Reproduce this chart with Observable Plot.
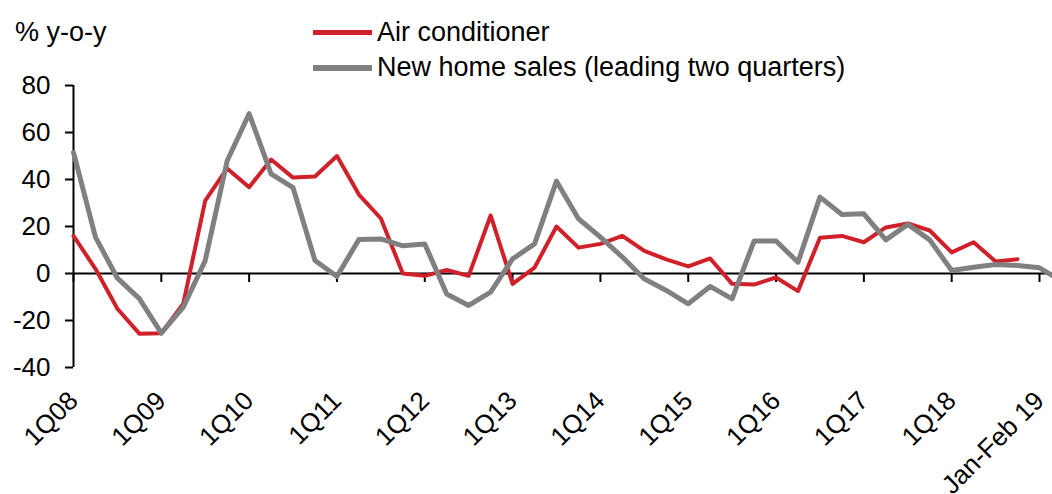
<!DOCTYPE html>
<html><head><meta charset="utf-8">
<script src="https://cdn.jsdelivr.net/npm/d3@7"></script>
<script src="https://cdn.jsdelivr.net/npm/@observablehq/plot@0.6"></script>
<style>
html,body{margin:0;padding:0;background:#fff;overflow:hidden;}
#wrap{width:1052px;height:494px;overflow:hidden;position:relative;font-family:"Liberation Sans",Arial,sans-serif;background:#fff;}
#header{position:relative;height:62px;z-index:2;}
#header .t{position:absolute;font-size:27px;color:#000;white-space:nowrap;line-height:1;}
#header .sw{position:absolute;left:313px;width:59px;}
#chart{position:relative;z-index:1;}
</style></head><body>
<div id="wrap">
  <div id="header">
    <div class="t" style="left:15px;top:19px;">% y-o-y</div>
    <div class="sw" style="top:30px;height:5px;background:#d0202a;"></div>
    <div class="t" style="left:377px;top:19px;">Air conditioner</div>
    <div class="sw" style="top:65px;height:6px;background:#808080;"></div>
    <div class="t" style="left:377px;top:54px;">New home sales (leading two quarters)</div>
  </div>
  <div id="chart"></div>
</div>
<script>
const tickLabels = ["1Q08","1Q09","1Q10","1Q11","1Q12","1Q13","1Q14","1Q15","1Q16","1Q17","1Q18","Jan-Feb 19"];
const yTicks = [-40, -20, 0, 20, 40, 60, 80];
// quarterly series, index 0 = 1Q08
const airConditioner = [16, 2, -15, -25.6, -25.4, -12.8, 31, 44.7, 36.7, 48.5,
  40.8, 41.3, 50, 33.6, 23.4, 0, -1, 1.5, -1, 24.7,
  -4.4, 2.5, 20, 11, 12.6, 16, 9.6, 6, 3, 6.4,
  -4.4, -4.7, -1.7, -7.5, 15.2, 16, 13.3, 19.6, 21.3, 18.3,
  9, 13.3, 5.1, 6.1];
const newHomeSales = [51.5, 15.5, -2, -10.7, -25.4, -14.3, 5.5, 48, 68, 42.4,
  36.5, 5.5, -1.3, 14.5, 14.7, 11.8, 12.6, -8.7, -13.6, -7.9,
  6.2, 12.6, 39.3, 23.3, 15.5, 7, -2.3, -7.2, -12.9, -5.5,
  -10.8, 13.8, 13.8, 4.8, 32.5, 25.1, 25.4, 14.3, 20.9, 14.3,
  1.3, 2.7, 3.8, 3.4, 2.4, -3.2];

const tickIdx = tickLabels.map((_, k) => k * 4);
const ac = airConditioner.map((v, i) => ({i, v}));
const nh = newHomeSales.map((v, i) => ({i, v}));
const lastIdx = newHomeSales.length - 1;

const chart = Plot.plot({
  width: 1052,
  height: 432,
  marginTop: 23,
  marginBottom: 127,
  marginLeft: 73,
  marginRight: 13,
  style: {fontFamily: '"Liberation Sans", Arial, sans-serif', fontSize: "26px", color: "#000", background: "transparent", overflow: "visible"},
  x: {domain: [0, tickIdx[tickIdx.length - 1]]},
  y: {domain: [-40, 80]},
  marks: [
    Plot.ruleY([0], {x1: 0, x2: lastIdx, stroke: "#000", strokeWidth: 2}),
    Plot.ruleX(tickIdx, {x: d => d, y1: 0, y2: 0, insetBottom: -9, stroke: "#000", strokeWidth: 2}),
    Plot.ruleX([0], {y1: yTicks[0], y2: yTicks[yTicks.length - 1], stroke: "#000", strokeWidth: 2}),
    Plot.axisY({ticks: yTicks, tickSize: 8, tickPadding: 15, tickFormat: d => String(d), strokeWidth: 2, stroke: "#000", label: null}),
    Plot.axisX({ticks: tickIdx, tickSize: 0, tickPadding: 29, tickRotate: -45, tickFormat: d => tickLabels[d / 4], label: null}),
    Plot.lineY(ac, {x: "i", y: "v", stroke: "#d0202a", strokeWidth: 4, strokeLinejoin: "round", strokeLinecap: "round"}),
    Plot.lineY(nh, {x: "i", y: "v", stroke: "#808080", strokeWidth: 5, strokeLinejoin: "round", strokeLinecap: "round"})
  ]
});
document.getElementById("chart").appendChild(chart);
</script>
</body></html>
